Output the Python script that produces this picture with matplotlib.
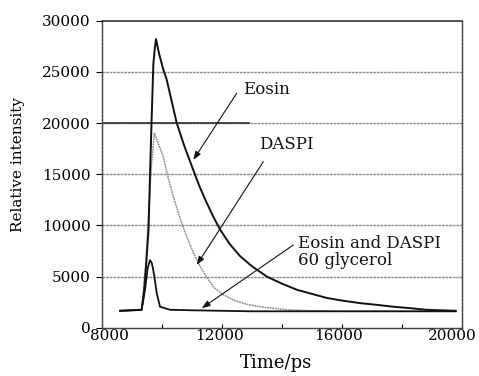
import matplotlib
matplotlib.use("Agg")
import matplotlib.pyplot as plt
from matplotlib.transforms import ScaledTranslation

# ---- data ----
eosin_t = [8600, 9000, 9320, 9400, 9480, 9550, 9600, 9656, 9711, 9760, 9800, 9900, 10044,
           10150, 10270, 10490, 10750, 11043, 11250, 11490, 11700, 11933, 12250, 12600, 13000, 13490,
           14000, 14500, 15000, 15500, 16000, 16600, 17100, 17700, 18300, 18800, 19300, 19790]
eosin_i = [1650, 1700, 1750, 3500, 6500, 9550, 15000, 20600, 25800, 27300, 28200, 26800, 25200,
           24300, 22800, 20000, 17700, 15400, 13800, 12200, 10900, 9600, 8200, 7000, 6000, 5000,
           4300, 3700, 3300, 2900, 2650, 2400, 2250, 2050, 1900, 1750, 1700, 1650]

daspi_t = [8600, 9000, 9320, 9450, 9550, 9650, 9745, 9850, 10044, 10200, 10378, 10600, 10822,
           11050, 11267, 11500, 11710, 12000, 12377, 12800, 13267, 13700, 14156, 15000, 16000,
           17000, 18000, 19000, 19790]
daspi_i = [1650, 1700, 1700, 6000, 11000, 16000, 19000, 18200, 16700, 14700, 12800, 10700, 8900,
           7300, 6000, 4900, 4000, 3300, 2700, 2300, 2050, 1900, 1750, 1650, 1600,
           1600, 1600, 1600, 1600]

glyc_t = [8600, 9000, 9320, 9433, 9520, 9600, 9660, 9711, 9770, 9822, 9933, 10267, 11000,
          12000, 13000, 14000, 16000, 18000, 19790]
glyc_i = [1650, 1700, 1750, 3700, 5800, 6600, 6300, 5600, 4500, 3400, 2050, 1750, 1700,
          1650, 1600, 1600, 1600, 1600, 1600]

x_ticks = [8000, 10000, 12000, 14000, 16000, 18000, 20000]
x_labels = ["8000", "", "12000", "", "16000", "", "20000"]
y_ticks = [0, 5000, 10000, 15000, 20000, 25000, 30000]
y_labels = ["0", "5000", "10000", "15000", "20000", "25000", "30000"]

labels = ["Eosin", "DASPI", "Eosin and DASPI\n60 glycerol"]
label_pos = [(12690, 23240), (13240, 17860), (14540, 7350)]
arrow_from = [(12490, 22910), (13377, 16230), (14377, 8080)]
arrow_to = [(11043, 16390), (11157, 6130), (11323, 1900)]

plt.rcParams['font.family'] = ['DejaVu Serif']

fig = plt.figure(figsize=(4.79, 3.76), dpi=100)
ax = fig.add_axes([0.213, 0.1285, 0.7515, 0.8165])

ax.set_xlim(8000, 20000)
ax.set_ylim(0, 30000)

for yv in y_ticks[1:-1]:
    ax.axhline(yv, color="#8a8a8a", lw=1.0, ls=(0, (2, 0.6)), zorder=1)
ax.axhline(20000, xmin=0, xmax=0.408, color="#222222", lw=1.1, zorder=1)

ax.plot(daspi_t, daspi_i, color="#8c8c8c", lw=1.1, ls=(0, (1.2, 0.5)), zorder=2)
ax.plot(eosin_t, eosin_i, color="#111111", lw=1.4, zorder=3)
ax.plot(glyc_t, glyc_i, color="#111111", lw=1.3, zorder=3)

for lab, pos in zip(labels, label_pos):
    ax.text(pos[0], pos[1], lab, fontsize=12, va="center", ha="left",
            linespacing=1.0, color="#111111")
for a, b in zip(arrow_from, arrow_to):
    ax.annotate("", xy=b, xytext=a,
                arrowprops=dict(arrowstyle="-|>,head_length=0.5,head_width=0.18",
                                color="#111111", lw=0.8, shrinkA=0, shrinkB=0))

ax.set_xticks(x_ticks)
ax.set_xticklabels(x_labels, fontsize=11)
ax.set_yticks(y_ticks)
ax.set_yticklabels(y_labels, fontsize=11)
ax.tick_params(axis="x", direction="in", length=3, pad=1, width=0.8)
ax.tick_params(axis="y", direction="out", length=4, pad=4, width=0.8)

# nudge the outer x tick labels as in the reference
x_shift_px = [7, 0, -3, 0, -4, 0, -10]
for lbl, dx in zip(ax.get_xticklabels(), x_shift_px):
    lbl.set_transform(lbl.get_transform() + ScaledTranslation(dx / 100, 0, fig.dpi_scale_trans))

for s in ["left", "bottom", "right"]:
    ax.spines[s].set_color("#444444")
    ax.spines[s].set_linestyle((0, (2, 0.6)))
    ax.spines[s].set_linewidth(1.0)
ax.spines["top"].set_color("#222222")
ax.spines["top"].set_linewidth(1.1)

fig.text(276 / 479, 1 - 363 / 376, "Time/ps", fontsize=13, ha="center", va="center")
fig.text(18 / 479, 1 - 165 / 376, "Relative intensity", fontsize=11, rotation=90,
         ha="center", va="center")

fig.savefig("out.png", dpi=100)
